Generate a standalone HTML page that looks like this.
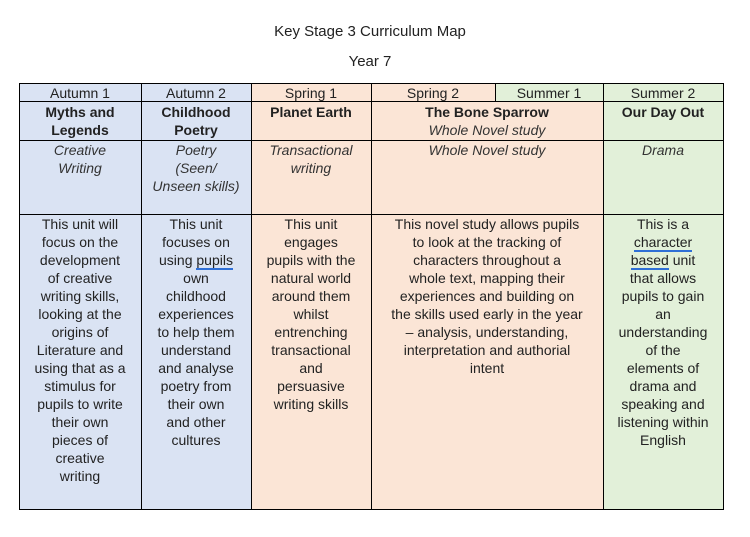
<!DOCTYPE html>
<html><head><meta charset="utf-8"><style>
body{margin:0;width:750px;height:537px;background:#fff;position:relative;font-family:"Liberation Sans",sans-serif;color:#222;overflow:hidden}
.t{position:absolute;left:0;width:740px;text-align:center;font-size:15px}
.c{position:absolute;box-sizing:border-box;text-align:center;font-size:14px;line-height:18px;white-space:nowrap;overflow:hidden}
.b{background:#dae3f3}.p{background:#fbe5d6}.g{background:#e2f0d9}
.l{position:absolute;background:#000}
i{font-style:italic;color:#333}
u{text-decoration:none;border-bottom:2px solid #2f6fd6}
</style></head><body>
<div class="t" style="top:23px">Key Stage 3 Curriculum Map</div>
<div class="t" style="top:53px">Year 7</div>

<div class="c b" style="left:19px;top:83px;width:122px;height:427px"></div>
<div class="c b" style="left:141px;top:83px;width:110px;height:427px"></div>
<div class="c p" style="left:251px;top:83px;width:352px;height:427px"></div>
<div class="c g" style="left:495px;top:83px;width:108px;height:18px"></div>
<div class="c g" style="left:603px;top:83px;width:120px;height:427px"></div>

<div class="c" style="left:19px;top:84px;width:122px">Autumn 1</div>
<div class="c" style="left:141px;top:84px;width:110px">Autumn 2</div>
<div class="c" style="left:251px;top:84px;width:120px">Spring 1</div>
<div class="c" style="left:371px;top:84px;width:124px">Spring 2</div>
<div class="c" style="left:495px;top:84px;width:108px">Summer 1</div>
<div class="c" style="left:603px;top:84px;width:120px">Summer 2</div>

<div class="c" style="left:19px;top:103px;width:122px"><b>Myths and<br>Legends</b></div>
<div class="c" style="left:141px;top:103px;width:110px"><b>Childhood<br>Poetry</b></div>
<div class="c" style="left:251px;top:103px;width:120px"><b>Planet Earth</b></div>
<div class="c" style="left:371px;top:103px;width:232px"><b>The Bone Sparrow</b><br><i>Whole Novel study</i></div>
<div class="c" style="left:603px;top:103px;width:120px"><b>Our Day Out</b></div>

<div class="c" style="left:19px;top:141px;width:122px"><i>Creative<br>Writing</i></div>
<div class="c" style="left:141px;top:141px;width:110px"><i>Poetry<br>(Seen/<br>Unseen skills)</i></div>
<div class="c" style="left:251px;top:141px;width:120px"><i>Transactional<br>writing</i></div>
<div class="c" style="left:371px;top:141px;width:232px"><i>Whole Novel study</i></div>
<div class="c" style="left:603px;top:141px;width:120px"><i>Drama</i></div>

<div class="c" style="left:19px;top:215px;width:122px">This unit will<br>focus on the<br>development<br>of creative<br>writing skills,<br>looking at the<br>origins of<br>Literature and<br>using that as a<br>stimulus for<br>pupils to write<br>their own<br>pieces of<br>creative<br>writing</div>
<div class="c" style="left:141px;top:215px;width:110px">This unit<br>focuses on<br>using <u>pupils</u><br>own<br>childhood<br>experiences<br>to help them<br>understand<br>and analyse<br>poetry from<br>their own<br>and other<br>cultures</div>
<div class="c" style="left:251px;top:215px;width:120px">This unit<br>engages<br>pupils with the<br>natural world<br>around them<br>whilst<br>entrenching<br>transactional<br>and<br>persuasive<br>writing skills</div>
<div class="c" style="left:371px;top:215px;width:232px">This novel study allows pupils<br>to look at the tracking of<br>characters throughout a<br>whole text, mapping their<br>experiences and building on<br>the skills used early in the year<br>– analysis, understanding,<br>interpretation and authorial<br>intent</div>
<div class="c" style="left:603px;top:215px;width:120px">This is a<br><u>character</u><br><u>based</u> unit<br>that allows<br>pupils to gain<br>an<br>understanding<br>of the<br>elements of<br>drama and<br>speaking and<br>listening within<br>English</div>

<div class="l" style="left:19px;top:83px;width:705px;height:1px"></div>
<div class="l" style="left:19px;top:101px;width:705px;height:1px"></div>
<div class="l" style="left:19px;top:140px;width:705px;height:1px"></div>
<div class="l" style="left:19px;top:214px;width:705px;height:1px"></div>
<div class="l" style="left:19px;top:509px;width:705px;height:1px"></div>
<div class="l" style="left:19px;top:83px;width:1px;height:427px"></div>
<div class="l" style="left:141px;top:83px;width:1px;height:427px"></div>
<div class="l" style="left:251px;top:83px;width:1px;height:427px"></div>
<div class="l" style="left:371px;top:83px;width:1px;height:427px"></div>
<div class="l" style="left:495px;top:83px;width:1px;height:18px"></div>
<div class="l" style="left:603px;top:83px;width:1px;height:427px"></div>
<div class="l" style="left:723px;top:83px;width:1px;height:427px"></div>
</body></html>
